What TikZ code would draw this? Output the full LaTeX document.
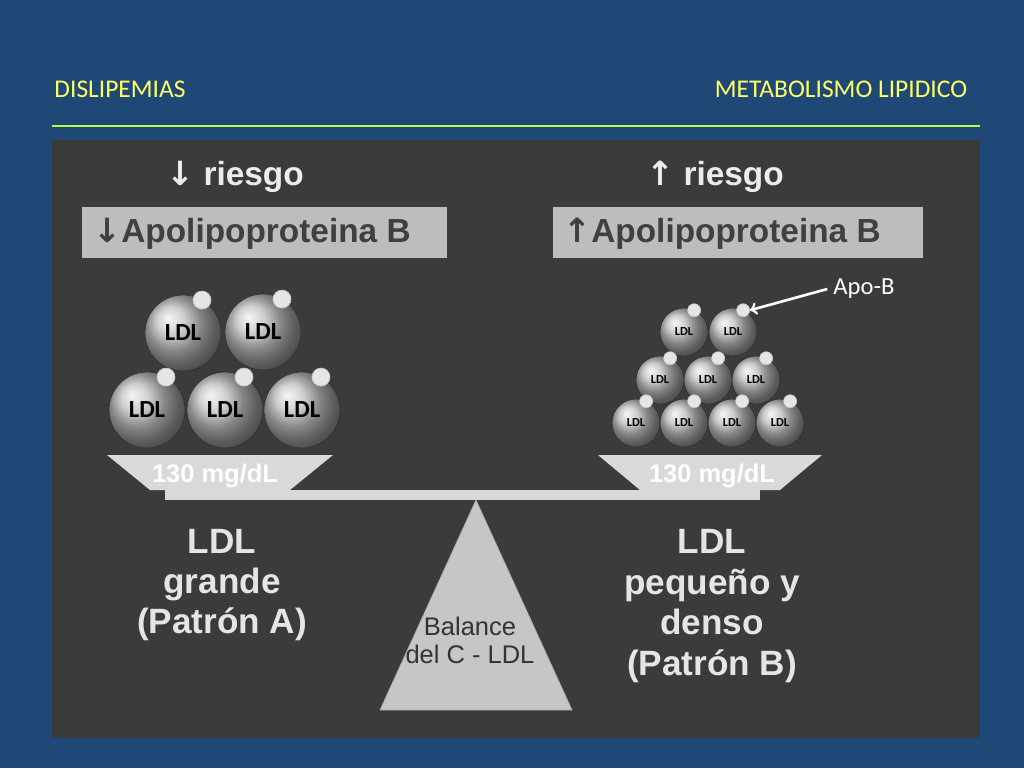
\documentclass[tikz,border=0pt]{standalone}
\usepackage{fontspec}
\setmainfont{Carlito}
\newfontfamily\panelfont{Liberation Sans}
\newfontfamily\symfont{DejaVu Sans}
\definecolor{slideblue}{HTML}{1F4877}
\definecolor{headyellow}{HTML}{FFFF66}
\definecolor{panelgray}{HTML}{3B3B3B}
\definecolor{boxgray}{HTML}{BDBDBD}
\tikzset{
  ldl/.style={circle,draw=black!80,ball color=white!75!black,inner sep=0pt},
  knob/.style={circle,fill=white!80!gray,draw=white!55!gray,inner sep=0pt,minimum size=18\px},
  pan/.style={fill=white!70!gray,draw=none},
  bigtext/.style={font=\panelfont\bfseries\fontsize{20}{23}\selectfont,text=white!80!gray,align=center},
}
\newcommand{\px}{*0.02cm}
\begin{document}
\begin{tikzpicture}[x=0.02cm,y=-0.02cm]
  \fill[slideblue] (0,0) rectangle (1024,768);
  \useasboundingbox (0,0) rectangle (1024,768);
  % header
  \node[text=headyellow,font=\fontsize{14.5}{17}\selectfont] (title) at (120,89) {DISLIPEMIAS};
  \node[text=headyellow,font=\fontsize{14.5}{17}\selectfont] (topic) at (841,89) {METABOLISMO LIPIDICO};
  \draw[headyellow!70!green,line width=0.6pt] (52,126) -- (980,126);
  % panel
  \fill[panelgray] (52,140) rectangle (980,738);
  % risk titles
  \node[bigtext,font=\panelfont\bfseries\fontsize{19}{22}\selectfont,text=white!85!gray] (lowrisk) at (235,177) {{\symfont\bfseries↓} riesgo};
  \node[bigtext,font=\panelfont\bfseries\fontsize{19}{22}\selectfont,text=white!85!gray] (highrisk) at (715,177) {{\symfont\bfseries↑} riesgo};
  \fill[boxgray] (82,207) rectangle (447,258);
  \fill[boxgray] (553,207) rectangle (923,258);
  \node[font=\panelfont\bfseries\fontsize{19}{22}\selectfont,text=black!75] (lowapo) at (252,234) {{\symfont\bfseries↓}Apolipoproteina B};
  \node[font=\panelfont\bfseries\fontsize{19}{22}\selectfont,text=black!75] (highapo) at (722,234) {{\symfont\bfseries↑}Apolipoproteina B};
  % pans and beam
  \fill[pan] (107,455) -- (333,455) -- (290,490) -- (150,490) -- cycle;
  \fill[pan] (598,455) -- (822,455) -- (780,490) -- (640,490) -- cycle;
  \fill[white!70!gray] (165,490) rectangle (760,500);
  \node[bigtext,font=\panelfont\bfseries\fontsize{14.5}{17}\selectfont,text=white] (leftmass) at (215,476) {130 mg/dL};
  \node[bigtext,font=\panelfont\bfseries\fontsize{14.5}{17}\selectfont,text=white] (rightmass) at (712,476) {130 mg/dL};
  \fill[white!55!gray,draw=white!35!gray] (476,500) -- (572,710) -- (380,710) -- cycle;
  \node[font=\panelfont\fontsize{14.5}{16}\selectfont,text=black!80,align=center] (fulcrum) at (470,640) {Balance\\del C - LDL};
  % large particles
  \foreach \cx/\cy [count=\i] in {183/333,263/332,147/410,225/410,302/410}{
    \node[ldl,minimum size=76\px,font=\bfseries\fontsize{14}{16}\selectfont] (big\i) at (\cx,\cy) {LDL};
    \node[knob] (bigknob\i) at ([shift={(60:38\px)}]big\i.center) {};
  }
  % small particles
  \foreach \cx/\cy [count=\i] in {684/332,733/332,660/380,708/380,756/380,636/423,684/423,732/423,780/423}{
    \node[ldl,minimum size=48\px,font=\bfseries\fontsize{7}{8}\selectfont] (small\i) at (\cx,\cy) {LDL};
    \node[knob,minimum size=13\px] (smallknob\i) at ([shift={(65:24\px)}]small\i.center) {};
  }
  \node[text=white,font=\fontsize{14}{16}\selectfont] (apob) at (864,289) {Apo-B};
  \draw[->,white,line width=1.5pt] (apob.west) -- (smallknob2.east);
  % captions
  \node[bigtext] (leftcap) at (222,585) {LDL\\grande\\(Patrón A)};
  \node[bigtext] (rightcap) at (712,606) {LDL\\pequeño y\\denso\\(Patrón B)};
\end{tikzpicture}
\end{document}
